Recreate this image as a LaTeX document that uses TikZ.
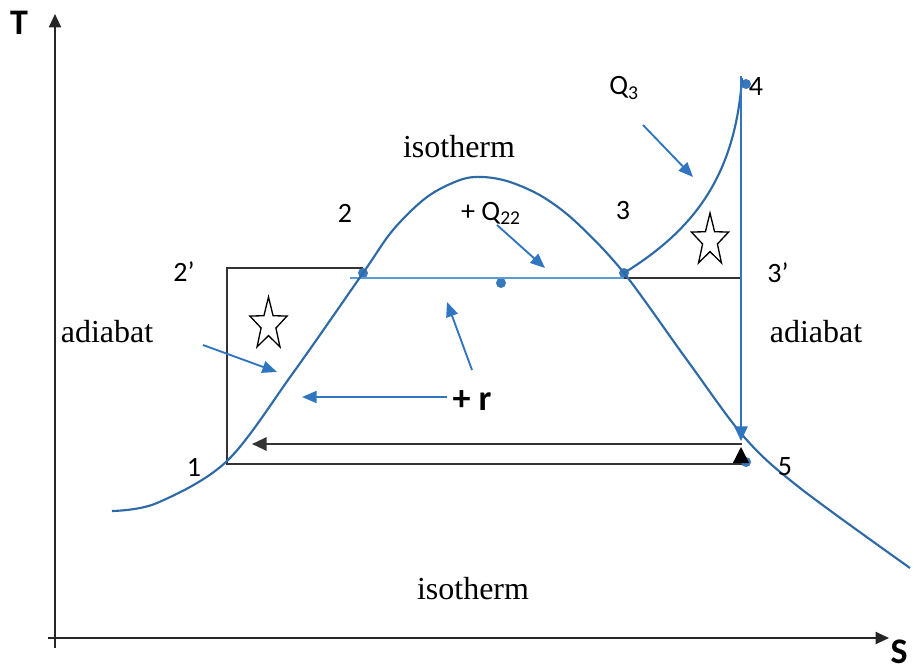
\documentclass[tikz,border=0pt]{standalone}
\usepackage{fontspec}
\setmainfont{Liberation Serif}
\newfontfamily\labfont{Carlito}
\usetikzlibrary{arrows.meta}
\definecolor{dome}{HTML}{2E6AA6}
\definecolor{arr}{HTML}{2F75C0}
\definecolor{lightb}{HTML}{5B9BD5}
\definecolor{dotc}{HTML}{3A78BE}
\newcommand\drawstar[1]{\draw[starline] (#1) +(-90:19.5 and 27.6) -- +(-54:7.8 and 11) -- +(-18:19.5 and 27.6) -- +(18:7.8 and 11) -- +(54:19.5 and 27.6) -- +(90:7.8 and 11) -- +(126:19.5 and 27.6) -- +(162:7.8 and 11) -- +(198:19.5 and 27.6) -- +(234:7.8 and 11) -- cycle;}
\begin{document}
\begin{tikzpicture}[x=0.75pt,y=-0.75pt,
  domeline/.style={draw=dome, line width=1.6pt},
  bluearrow/.style={draw=arr, line width=1.4pt, -{Triangle[length=11pt,width=9pt]}},
  blackline/.style={draw=black!80, line width=1.5pt},
  axisline/.style={draw=black!85, line width=1.5pt, -{Triangle[length=10pt,width=9pt]}},
  dot/.style={circle, fill=dotc, inner sep=0pt, minimum size=7.5pt},
  lab/.style={font=\labfont\fontsize{21}{24}\selectfont, inner sep=0pt},
  serif/.style={font=\fontsize{24}{28}\selectfont, inner sep=0pt, anchor=base},
  starline/.style={draw=black, line width=1pt, line join=miter}]
\useasboundingbox (0,0) rectangle (914,671);
\fill[white] (0,0) rectangle (914,671);

% axes
\coordinate (tbot) at (55,648);
\coordinate (ttop) at (55,14);
\coordinate (sleft) at (48,638);
\coordinate (sright) at (889,638);
\draw[axisline] (tbot) -- (ttop);
\draw[axisline] (sleft) -- (sright);
\node[font=\labfont\bfseries\fontsize{27}{30}\selectfont, inner sep=0pt] (T) at (19,23) {T};
\node[font=\labfont\bfseries\fontsize{27}{30}\selectfont, inner sep=0pt] (S) at (899,652) {S};

% rectangle and arrows (black)
\coordinate (r1) at (227,464);
\coordinate (r2p) at (227,268);
\coordinate (r2top) at (363,268);
\coordinate (r5) at (746,464);
\draw[blackline] (r2top) -- (r2p) -- (r1) -- (r5);
\coordinate (aR) at (742,444);
\coordinate (aL) at (252,444);
\draw[blackline, -{Triangle[length=11pt,width=10pt]}] (aR) -- (aL);

% dots
\node[dot] (d2) at (363,273) {};
\node[dot] (dm) at (501,283) {};
\node[dot] (d3) at (624,273) {};
\node[dot] (d4) at (746,84) {};
\node[dot] (d5) at (746,462) {};

% light horizontal line and black 3-3'
\coordinate (lL) at (350,278);
\coordinate (l3) at (624,278);
\coordinate (q3p) at (741,278);
\draw[draw=lightb, line width=1.2pt] (lL) -- (l3);
\draw[blackline] (l3) -- (q3p);

% dome curve
\draw[domeline] plot[smooth, tension=0.55] coordinates {
 (112,511) (157,503) (227,461) (293,373) (363,273)
 (393,230) (427,197) (460,180) (483,177) (510,182) (543,197) (577,223)
 (624,273) (687,360) (745,438) (800,488) (910,568)};

% 3 -> 4 curve
\coordinate (c4) at (742,78);
\draw[domeline] (d3.center) .. controls (690,232) and (735,180) .. (c4);

% vertical 4 -> 5
\coordinate (vtop) at (741,76);
\coordinate (vbot) at (741,441);
\draw[draw=arr, line width=1.4pt, -{Triangle[length=11pt,width=10pt]}] (vtop) -- (vbot);

% small black up arrow at 5
\coordinate (up1) at (741,462);
\coordinate (up2) at (741,447);
\draw[draw=black, line width=1pt, -{Triangle[length=12pt,width=12pt]}] (up1) -- (up2);

% blue arrows
\coordinate (a1s) at (203,345); \coordinate (a1e) at (277,372);
\draw[bluearrow] (a1s) -- (a1e);
\coordinate (a2s) at (447,397); \coordinate (a2e) at (302,397);
\draw[bluearrow] (a2s) -- (a2e);
\coordinate (a3s) at (472,370); \coordinate (a3e) at (447,302);
\draw[bluearrow] (a3s) -- (a3e);
\coordinate (a4s) at (497,225); \coordinate (a4e) at (545,268);
\draw[bluearrow] (a4s) -- (a4e);
\coordinate (a5s) at (643,125); \coordinate (a5e) at (693,177);
\draw[bluearrow] (a5s) -- (a5e);

% stars
\drawstar{268.5,324.6}
\drawstar{710,240.6}

% labels
\node[lab] (l2) at (345,213) {2};
\node[lab] (l3lab) at (623,211) {3};
\node[lab] (l2p) at (184,272) {2’};
\node[lab] (l3p) at (778,273) {3’};
\node[lab] (l1) at (194,467) {1};
\node[lab] (l5) at (785,467) {5};
\node[lab] (l4) at (756,87) {4};
\node[lab] (lq3) at (624,88) {Q\textsubscript{3}};
\node[lab] (lq22) at (491,213) {+ Q\textsubscript{22}};
\node[font=\labfont\bfseries\fontsize{27}{30}\selectfont, inner sep=0pt] (lr) at (472,401) {+ r};
\node[serif] (iso1) at (459,157) {isotherm};
\node[serif] (iso2) at (473,599) {isotherm};
\node[serif] (ad1) at (107,342) {adiabat};
\node[serif] (ad2) at (816,342) {adiabat};
\end{tikzpicture}
\end{document}
